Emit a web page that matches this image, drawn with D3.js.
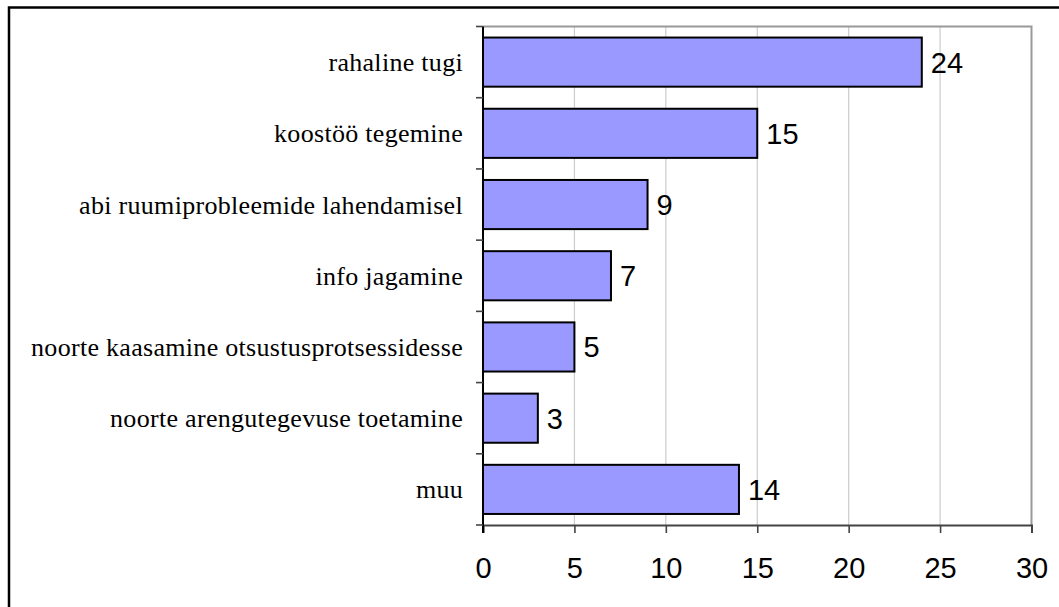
<!DOCTYPE html>
<html>
<head>
<meta charset="utf-8">
<script src="https://cdn.jsdelivr.net/npm/d3@7"></script>
<style>
  body { margin: 0; background: #fff; }
  svg { display: block; }
</style>
</head>
<body>
<svg width="1059" height="607"></svg>
<script>
// chart data
var categories = ["rahaline tugi", "koostöö tegemine", "abi ruumiprobleemide lahendamisel",
  "info jagamine", "noorte kaasamine otsustusprotsessidesse", "noorte arengutegevuse toetamine", "muu"];
var values = [24, 15, 9, 7, 5, 3, 14];
var xTicks = [0, 5, 10, 15, 20, 25, 30];

var svg = d3.select("svg");

var plot = {left: 483, right: 1031.5, top: 26.5, bottom: 525};

// outer frame (only top and left edges fall inside the picture)
svg.append("rect")
    .attr("x", 9).attr("y", 7.5)
    .attr("width", 1200).attr("height", 800)
    .attr("fill", "none")
    .attr("stroke", "#000")
    .attr("stroke-width", 2.5);

var x = d3.scaleLinear().domain([0, 30]).range([plot.left, plot.right]);
var y = d3.scaleBand().domain(categories).range([plot.top, plot.bottom])
    .paddingInner(0.31).paddingOuter(0.155);

// gridlines
svg.append("g")
  .selectAll("line")
  .data(xTicks.slice(1, -1))
  .enter().append("line")
    .attr("x1", function(d) { return x(d); })
    .attr("x2", function(d) { return x(d); })
    .attr("y1", plot.top)
    .attr("y2", plot.bottom)
    .attr("stroke", "#cccccc")
    .attr("stroke-width", 1.2);

// plot area border (top and right, gray)
svg.append("path")
    .attr("d", "M" + plot.left + "," + plot.top + "H" + plot.right + "V" + plot.bottom)
    .attr("fill", "none")
    .attr("stroke", "#999")
    .attr("stroke-width", 2);

// bars
svg.append("g")
  .selectAll("rect")
  .data(values)
  .enter().append("rect")
    .attr("x", x(0))
    .attr("y", function(d, i) { return y(categories[i]); })
    .attr("width", function(d) { return x(d) - x(0); })
    .attr("height", y.bandwidth())
    .attr("fill", "#9999ff")
    .attr("stroke", "#000")
    .attr("stroke-width", 2);

// value labels
svg.append("g")
  .selectAll("text")
  .data(values)
  .enter().append("text")
    .attr("x", function(d) { return x(d) + 9; })
    .attr("y", function(d, i) { return y(categories[i]) + y.bandwidth() / 2; })
    .attr("dy", "0.36em")
    .style("font", "29px 'Liberation Sans', Arial, sans-serif")
    .attr("fill", "#000")
    .text(function(d) { return d; });

// x axis
var xAxis = svg.append("g")
    .attr("transform", "translate(0," + plot.bottom + ")")
    .call(d3.axisBottom(x).tickValues(xTicks).tickSize(8).tickPadding(24).tickFormat(d3.format("d")));
xAxis.select(".domain").attr("stroke", "#444").attr("stroke-width", 2);
xAxis.selectAll(".tick line").attr("stroke", "#444").attr("stroke-width", 1.6);
xAxis.selectAll("text")
    .style("font", "29px 'Liberation Sans', Arial, sans-serif")
    .attr("fill", "#000");

// y axis: ticks at the band boundaries, labels at the band centres
var bounds = categories.map(function(c) { return y(c) - y.step() * y.paddingInner() / 2; });
bounds.push(plot.bottom);
svg.append("line")
    .attr("x1", plot.left).attr("x2", plot.left)
    .attr("y1", plot.top).attr("y2", plot.bottom + 8)
    .attr("stroke", "#000").attr("stroke-width", 2);
svg.append("g")
  .selectAll("line")
  .data(bounds)
  .enter().append("line")
    .attr("x1", plot.left - 7).attr("x2", plot.left)
    .attr("y1", function(d) { return d; })
    .attr("y2", function(d) { return d; })
    .attr("stroke", "#444").attr("stroke-width", 1.6);
svg.append("g")
  .selectAll("text")
  .data(categories)
  .enter().append("text")
    .attr("x", plot.left - 20)
    .attr("y", function(d) { return y(d) + y.bandwidth() / 2; })
    .attr("dy", "0.35em")
    .attr("text-anchor", "end")
    .style("font", "26px 'Liberation Serif', 'Times New Roman', serif")
    .style("letter-spacing", "0.3px")
    .attr("fill", "#000")
    .text(function(d) { return d; });
</script>
</body>
</html>
